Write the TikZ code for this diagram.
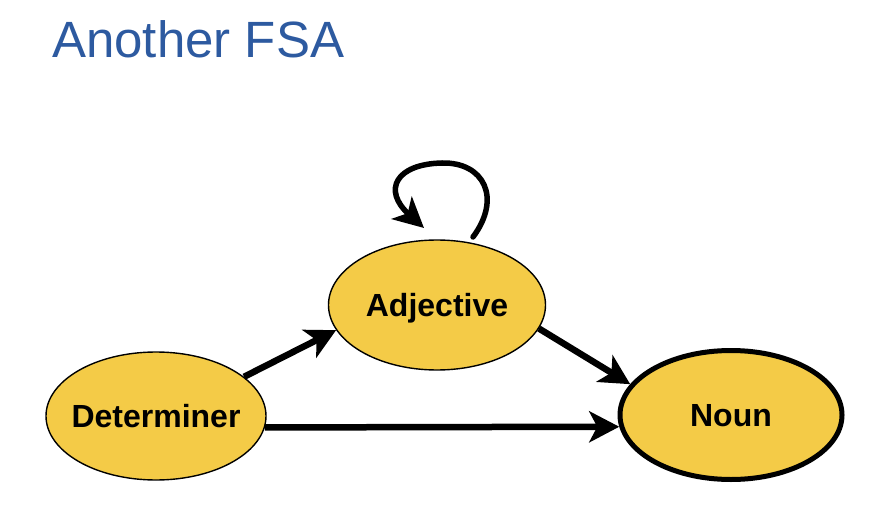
\documentclass[tikz,border=0pt]{standalone}
\usepackage{fontspec}
\setmainfont{Liberation Sans}
\usetikzlibrary{arrows.meta,shapes.geometric}
\definecolor{stateyellow}{HTML}{F4CB47}
\definecolor{titleblue}{HTML}{2D5AA0}
\tikzset{
  state/.style={ellipse, draw=black, line width=1.4pt, fill=stateyellow,
    inner sep=0pt, font=\bfseries\fontsize{32}{36}\selectfont,
    text height=23pt, text depth=0pt},
  final/.style={state, line width=5pt},
  arr/.style={line width=6.5pt, -{Stealth[length=30pt,width=31pt,inset=8pt]}},
  looparr/.style={line width=5.5pt, line cap=round, -{Stealth[length=30pt,width=30pt,inset=8pt]}},
}
\begin{document}
\begin{tikzpicture}[x=1pt,y=1pt]
\useasboundingbox (0,0) rectangle (885,520);
\fill[white] (0,0) rectangle (885,520);
\node[anchor=base west, text=titleblue, font=\fontsize{51}{60}\selectfont, inner sep=0pt] (title) at (52,462) {Another FSA};
\node[state, inner xsep=-8pt, minimum width=220pt, minimum height=128pt] (det) at (156,104) {Determiner};
\node[state, minimum width=217pt, minimum height=130pt] (adj) at (437,215) {Adjective};
\node[final, minimum width=222pt, minimum height=129pt] (noun) at (731,105) {Noun};
\draw[arr] (det.24) -- (adj.194);
\draw[arr] (adj.-13) -- (noun.163);
\draw[arr] (det.-6) -- (noun.186.5);
\coordinate (ls) at (473,283);
\coordinate (le) at (424,292);
\draw[looparr] (ls) .. controls (502,322) and (484,358) .. (442,357)
  .. controls (396,356) and (382,330) .. (le);
\end{tikzpicture}
\end{document}
